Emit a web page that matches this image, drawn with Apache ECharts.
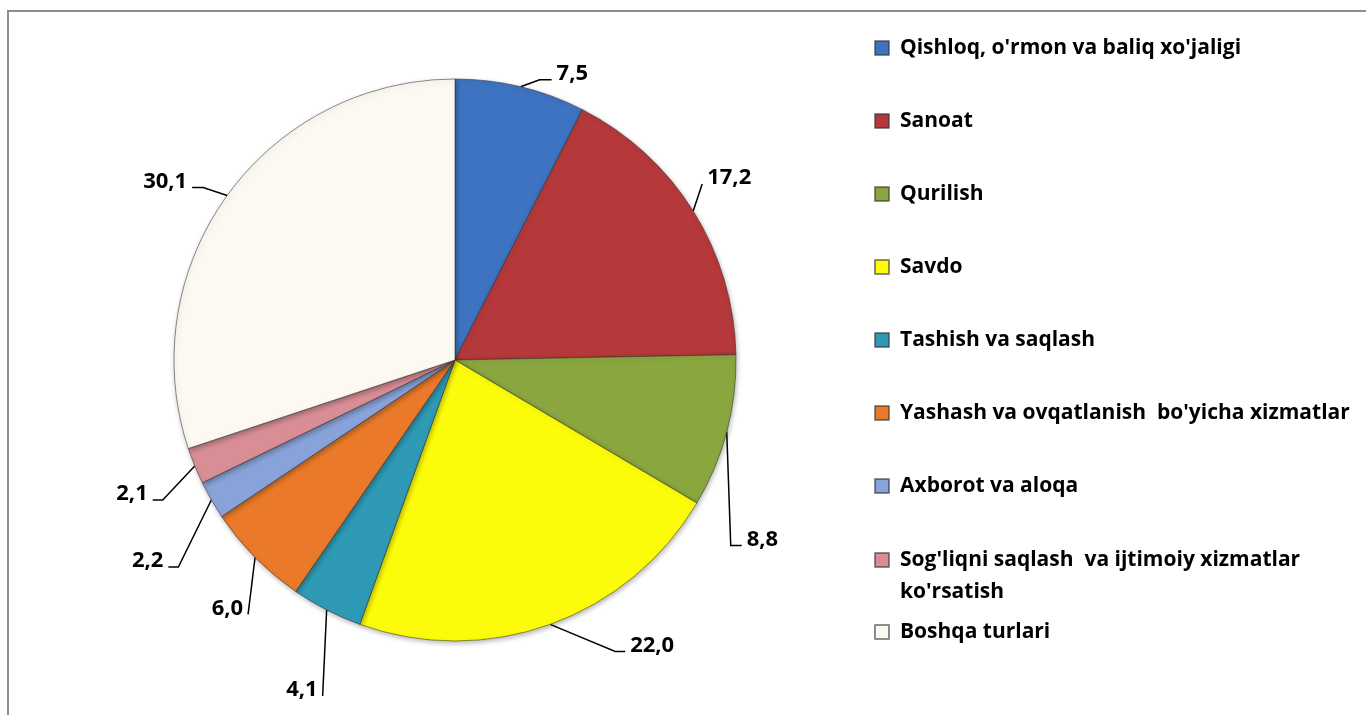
<!DOCTYPE html>
<html>
<head>
<meta charset="utf-8">
<script src="https://cdn.jsdelivr.net/npm/echarts@6/dist/echarts.min.js"></script>
<style>
  html, body { margin: 0; padding: 0; background: #fff; }
  #chart { width: 1366px; height: 715px; }
</style>
</head>
<body>
<div id="chart"></div>
<script>
// ---- data ----
const categories = [
  "Qishloq, o'rmon va baliq xo'jaligi",
  "Sanoat",
  "Qurilish",
  "Savdo",
  "Tashish va saqlash",
  "Yashash va ovqatlanish  bo'yicha xizmatlar",
  "Axborot va aloqa",
  "Sog'liqni saqlash  va ijtimoiy xizmatlar ko'rsatish",
  "Boshqa turlari"
];
const values = [7.5, 17.2, 8.8, 22.0, 4.1, 6.0, 2.2, 2.1, 30.1];

// ---- styles ----
const colors = ['#3d73c1', '#b5383a', '#8aa63f', '#fbfb0a', '#2f9ab5', '#ea7a2a', '#88a3d9', '#d98e96', '#fbf9f1'];
// leader line routing: [bend offset, end offset] relative to slice edge point
const leaderPaths = [
  [[19, -7], [31, -7]],
  [[9, -27], [9, -27]],
  [[4, 114], [15, 114]],
  [[65, 27], [75, 27]],
  [[-4, 86], [-4, 86]],
  [[-7, 57], [-7, 57]],
  [[-33, 67], [-43, 67]],
  [[-32, 34], [-42, 34]],
  [[-24, -8], [-35, -8]]
];

const FONT = '"Open Sans", Lato, sans-serif';
const chart = echarts.init(document.getElementById('chart'), null, { renderer: 'canvas' });

const pieData = categories.map((name, i) => ({
  name: name,
  value: values[i],
  itemStyle: { color: colors[i] }
}));

const legendText = {
  fontFamily: FONT, fontWeight: 'bold', fontSize: 21, color: '#000',
  lineHeight: 32, padding: [0, 0, 0, 6]
};
const legendBase = {
  orient: 'vertical', left: 874, padding: 0,
  itemWidth: 14, itemHeight: 14, itemGap: 41, icon: 'rect',
  selectedMode: false, textStyle: legendText
};

const option = {
  animation: false,
  backgroundColor: '#fff',
  graphic: [{
    type: 'rect', silent: true, z: -10,
    shape: { x: 8, y: 11, width: 1420, height: 800 },
    style: { fill: 'none', stroke: '#8c8c8c', lineWidth: 2 }
  }],
  legend: [
    Object.assign({}, legendBase, { top: 32, data: categories.slice(0, 7) }),
    Object.assign({}, legendBase, {
      top: 512, data: [categories[7]],
      // wrap the long name onto two lines, first line level with the marker
      formatter: function (name) {
        const k = name.lastIndexOf(' ');
        return '\n' + name.slice(0, k) + '\n' + name.slice(k + 1);
      }
    }),
    Object.assign({}, legendBase, { top: 616, data: [categories[8]] })
  ],
  series: [{
    type: 'pie',
    center: [455, 360],
    radius: 281,
    startAngle: 90,
    clockwise: true,
    avoidLabelOverlap: false,
    silent: true,
    data: pieData,
    itemStyle: {
      borderColor: 'rgba(50,50,50,0.55)',
      borderWidth: 1,
      shadowBlur: 5,
      shadowColor: 'rgba(0,0,0,0.28)',
      shadowOffsetX: 1,
      shadowOffsetY: 2
    },
    label: {
      show: true,
      position: 'outside',
      fontFamily: FONT, fontWeight: 'bold', fontSize: 22, color: '#000',
      formatter: p => p.value.toFixed(1).replace('.', ',')
    },
    labelLine: {
      show: true, length: 10, length2: 5,
      lineStyle: { color: '#000', width: 1.5 }
    },
    labelLayout: function (params) {
      const i = params.dataIndex;
      const pts = params.labelLinePoints;
      if (!pts) return {};
      const p0 = pts[0];
      const path = leaderPaths[i];
      const bend = [p0[0] + path[0][0], p0[1] + path[0][1]];
      const end = [p0[0] + path[1][0], p0[1] + path[1][1]];
      const right = path[1][0] >= 0;
      return {
        x: end[0] + (right ? 5 : -5),
        y: end[1] - 6,
        align: right ? 'left' : 'right',
        verticalAlign: 'middle',
        labelLinePoints: [p0, bend, end]
      };
    }
  }]
};
chart.setOption(option);
</script>
</body>
</html>
